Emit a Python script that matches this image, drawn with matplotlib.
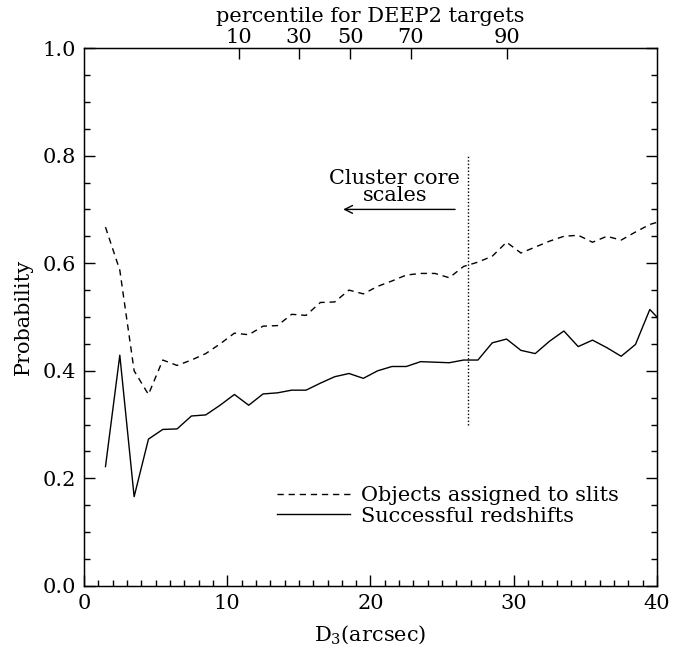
import numpy as np
import matplotlib
matplotlib.use('Agg')
import matplotlib.pyplot as plt

plt.rcParams['font.family'] = ['DejaVu Serif']
plt.rcParams['mathtext.fontset'] = 'dejavuserif'

# bin centres in arcsec
d3 = np.arange(1.5, 41.0, 1.0)

# probability an object got a slit
p_slit = [0.667, 0.587, 0.400, 0.356, 0.420, 0.410, 0.420, 0.432, 0.450, 0.470,
          0.467, 0.483, 0.484, 0.505, 0.503, 0.527, 0.528, 0.550, 0.543, 0.557,
          0.567, 0.578, 0.581, 0.581, 0.573, 0.594, 0.602, 0.613, 0.639, 0.619,
          0.630, 0.641, 0.650, 0.652, 0.639, 0.650, 0.643, 0.658, 0.672, 0.680]
# probability of a successful redshift
p_z = [0.222, 0.429, 0.166, 0.273, 0.291, 0.292, 0.316, 0.318, 0.336, 0.356,
       0.336, 0.357, 0.359, 0.364, 0.364, 0.377, 0.389, 0.395, 0.386, 0.400,
       0.408, 0.408, 0.417, 0.416, 0.415, 0.420, 0.420, 0.452, 0.459, 0.438,
       0.432, 0.455, 0.474, 0.445, 0.457, 0.443, 0.427, 0.449, 0.514, 0.486]

pct_labels = ['10', '30', '50', '70', '90']
pct_pos = [10.8, 15.0, 18.6, 22.8, 29.5]

core_x = 26.8

fs = 15
fig = plt.figure(figsize=(6.84, 6.49), dpi=100)
ax = fig.add_axes([0.1228, 0.0971, 0.8377, 0.8289])

ax.plot(d3, p_slit, color='k', lw=1.0, ls=(0, (4.5, 3.5)), label='Objects assigned to slits')
ax.plot(d3, p_z, color='k', lw=1.0, label='Successful redshifts')
ax.plot([core_x, core_x], [0.3, 0.8], color='k', lw=1.0, ls=(0, (1, 1.5)))

ax.annotate('', xy=(17.9, 0.70), xytext=(26.1, 0.70),
            arrowprops=dict(arrowstyle='->', color='k', lw=1.0, mutation_scale=14))
ax.text(21.7, 0.758, 'Cluster core', ha='center', va='center', fontsize=fs)
ax.text(21.7, 0.725, 'scales', ha='center', va='center', fontsize=fs)

ax.set_xlim(0, 40)
ax.set_ylim(0, 1.0)
ax.set_xticks([0, 10, 20, 30, 40])
ax.set_xticks(np.arange(0, 41, 1), minor=True)
ax.set_yticks([0.0, 0.2, 0.4, 0.6, 0.8, 1.0])
ax.set_yticks(np.arange(0, 1.001, 0.05), minor=True)
ax.set_yticklabels(['0.0', '0.2', '0.4', '0.6', '0.8', '1.0'])
ax.tick_params(which='both', direction='in', top=False, right=True, labelsize=fs)
ax.tick_params(which='major', length=8, width=1.0, pad=6)
ax.tick_params(which='minor', length=4, width=1.0)
for s in ax.spines.values():
    s.set_linewidth(1.0)

ax.set_xlabel(r'D$_3$(arcsec)', fontsize=fs, labelpad=7)
ax.set_ylabel('Probability', fontsize=fs, labelpad=7)

ax2 = ax.twiny()
ax2.set_xlim(0, 40)
ax2.set_xticks(pct_pos)
ax2.set_xticklabels(pct_labels)
ax2.tick_params(axis='x', direction='in', length=8, width=1.0, pad=1, labelsize=fs)
ax2.set_xlabel('percentile for DEEP2 targets', fontsize=fs, labelpad=4)

ax.legend(loc='lower left', bbox_to_anchor=(0.318, 0.093), frameon=False, fontsize=fs,
          handlelength=3.5, handletextpad=0.55, labelspacing=0.05, borderpad=0)

fig.savefig('out.png', dpi=100)
